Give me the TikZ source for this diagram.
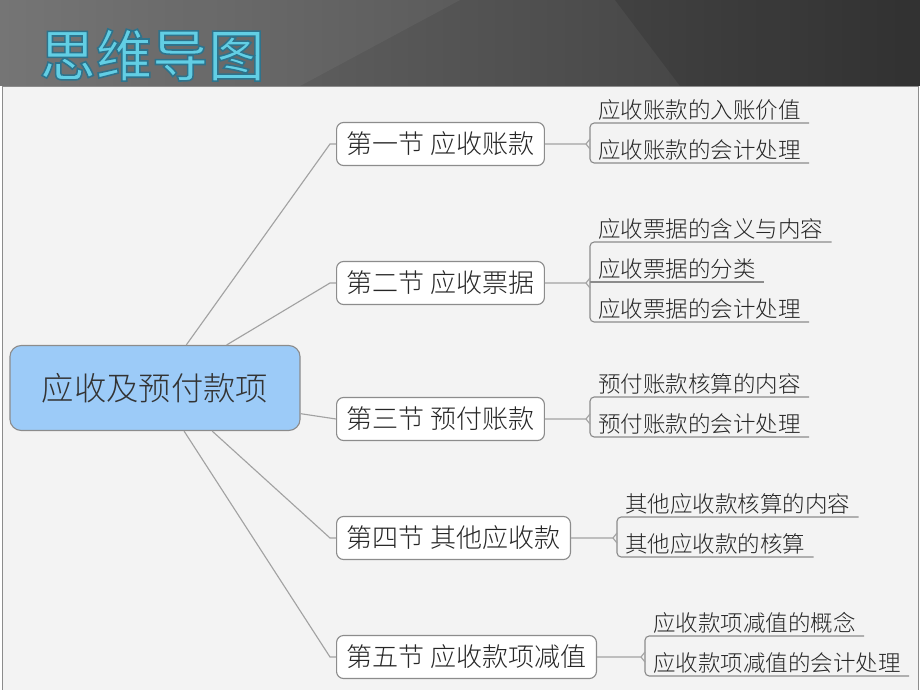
\documentclass[tikz,border=0pt]{standalone}
\usepackage{fontspec}
\newfontfamily\cjk{Noto Sans CJK SC}[UprightFont=* Light, BoldFont=* Medium]
\newfontfamily\cjktitle{Noto Sans CJK SC}[UprightFont=* Medium]
\usepackage{xcolor}
\usepackage{tikz}
\usetikzlibrary{calc,positioning,backgrounds}

\definecolor{headlight}{HTML}{6E6E6E}
\definecolor{headdark}{HTML}{393939}
\definecolor{titlecyan}{HTML}{62CEE4}
\definecolor{panelgray}{HTML}{F3F3F3}
\definecolor{rootblue}{HTML}{9CCBF8}
\definecolor{boxline}{HTML}{8C8C8C}
\definecolor{linkgray}{HTML}{A2A2A2}

% outlined title text (fill + stroke)
\newcommand{\outlined}[1]{\special{pdf:literal direct 2 Tr 1.1 w 0.18 0.45 0.55 RG}#1\special{pdf:literal direct 0 Tr}}

\tikzset{
	rootbox/.style={draw=boxline, line width=0.8pt, fill=rootblue, rounded corners=8pt,
		minimum width=7.25cm, minimum height=2.125cm, text=black!80, font=\cjk\fontsize{23}{26}\selectfont},
	secbox/.style={draw=boxline, line width=0.8pt, fill=white, rounded corners=5pt,
		minimum height=1.075cm, inner xsep=0.25cm, text=black!85, font=\cjk\fontsize{18.5}{21}\selectfont},
	leaf/.style={inner xsep=0.2cm, inner ysep=2pt, text=black!85, font=\cjk\fontsize{16}{18}\selectfont},
	link/.style={draw=linkgray, line width=0.8pt},
	uline/.style={draw=boxline, line width=0.8pt, rounded corners=3pt}
}

\begin{document}
\begin{tikzpicture}[x=0.025cm, y=-0.025cm]

		\useasboundingbox (0,0) rectangle (920,690);

		% header band
		\shade[left color=headlight, right color=headdark] (0,0) rectangle (920,86);
		\fill[white, opacity=0.05] (0,0) -- (460,0) -- (300,86) -- (0,86) -- cycle;
		\fill[black, opacity=0.12] (615,0) -- (920,0) -- (920,86) -- (680,86) -- cycle;

		\node (title) [text=titlecyan, font=\cjktitle\fontsize{40}{44}\selectfont] at (152,55) {\outlined{思维导图}};

		% panel
		\draw[draw=boxline, fill=panelgray] (2,86) rectangle (918,694);

		\node (root) [rootbox] at (155,388) {应收及预付款项};

		\node (sec1) [secbox, anchor=west] at (336,144) {第一节 应收账款};

		\node (sec2) [secbox, anchor=west] at (336,283) {第二节 应收票据};

		\node (sec3) [secbox, anchor=west] at (336,419) {第三节 预付账款};

		\node (sec4) [secbox, anchor=west] at (336,538) {第四节 其他应收款};

		\node (sec5) [secbox, anchor=west] at (336,657) {第五节 应收款项减值};


		\node (l11) [leaf, anchor=south west] at (590,123) {应收账款的入账价值};

		\node (l12) [leaf, anchor=south west] at (590,163) {应收账款的会计处理};

		\node (l21) [leaf, anchor=south west] at (590,242) {应收票据的含义与内容};

		\node (l22) [leaf, anchor=south west] at (590,282) {应收票据的分类};

		\node (l23) [leaf, anchor=south west] at (590,322) {应收票据的会计处理};

		\node (l31) [leaf, anchor=south west] at (590,397) {预付账款核算的内容};

		\node (l32) [leaf, anchor=south west] at (590,437) {预付账款的会计处理};

		\node (l41) [leaf, anchor=south west] at (617,517) {其他应收款核算的内容};

		\node (l42) [leaf, anchor=south west] at (617,557) {其他应收款的核算};

		\node (l51) [leaf, anchor=south west] at (645,636) {应收款项减值的概念};

		\node (l52) [leaf, anchor=south west] at (645,676) {应收款项减值的会计处理};


		% root to sections
		\draw[link] (root.54) -- ([xshift=-0.15cm]sec1.west) -- (sec1.west);

		\draw[link] (root.31) -- ([xshift=-0.15cm]sec2.west) -- (sec2.west);

		\draw[link] (root.-10) -- (sec3.west);

		\draw[link] (root.-37) -- ([xshift=-0.15cm]sec4.west) -- (sec4.west);

		\draw[link] (root.-56) -- ([xshift=-0.15cm]sec5.west) -- (sec5.west);

		% sections to leaves
		\draw[uline] (l11.south east) -- (l11.south west) -- (l12.south west) -- (l12.south east);
		\draw[link] (sec1.east) -- ($(sec1.east -| l11.south west) + (-4,0)$) -- ++(4,-5);
		\draw[link] ($(sec1.east -| l11.south west) + (-4,0)$) -- ++(4,5);

		\draw[uline] (l21.south east) -- (l21.south west) -- (l23.south west) -- (l23.south east);
		\draw[uline] (l22.south west) -- (l22.south east);
		\draw[link] (sec2.east) -- ($(sec2.east -| l21.south west) + (-4,0)$) -- ++(4,-5);
		\draw[link] ($(sec2.east -| l21.south west) + (-4,0)$) -- ++(4,5);

		\draw[uline] (l31.south east) -- (l31.south west) -- (l32.south west) -- (l32.south east);
		\draw[link] (sec3.east) -- ($(sec3.east -| l31.south west) + (-4,0)$) -- ++(4,-5);
		\draw[link] ($(sec3.east -| l31.south west) + (-4,0)$) -- ++(4,5);

		\draw[uline] (l41.south east) -- (l41.south west) -- (l42.south west) -- (l42.south east);
		\draw[link] (sec4.east) -- ($(sec4.east -| l41.south west) + (-4,0)$) -- ++(4,-5);
		\draw[link] ($(sec4.east -| l41.south west) + (-4,0)$) -- ++(4,5);

		\draw[uline] (l51.south east) -- (l51.south west) -- (l52.south west) -- (l52.south east);
		\draw[link] (sec5.east) -- ($(sec5.east -| l51.south west) + (-4,0)$) -- ++(4,-5);
		\draw[link] ($(sec5.east -| l51.south west) + (-4,0)$) -- ++(4,5);

\end{tikzpicture}
\end{document}
